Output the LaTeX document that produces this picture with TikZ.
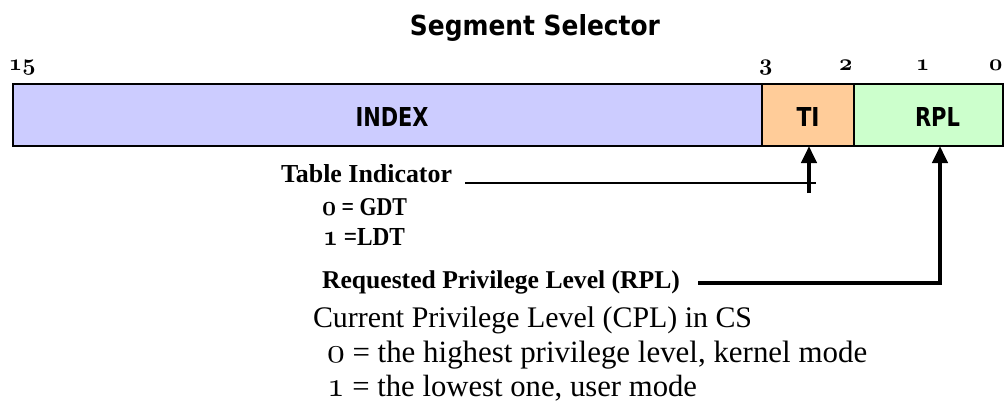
\documentclass[tikz,border=0pt]{standalone}
\usepackage{fontspec}
\usepackage{graphicx}
\usetikzlibrary{arrows.meta}
\setmainfont{Liberation Serif}
\newfontfamily\djv{DejaVu Sans}
\definecolor{idxfill}{HTML}{CCCCFF}
\definecolor{tifill}{HTML}{FFCC99}
\definecolor{rplfill}{HTML}{CCFFCC}
\newcommand\fitw[2]{\resizebox{#1}{!}{#2}}
\newcommand\fitwh[3]{\resizebox{#1}{#2}{#3}}
\newcommand\osfm[1]{\scalebox{1.15}{\usefont{OML}{cmm}{m}{it}#1}}
\newcommand\osfb[1]{\scalebox{1.12}{\usefont{OML}{cmm}{b}{it}#1}}
\begin{document}
\begin{tikzpicture}[x=1pt,y=-1pt,
  every node/.style={inner sep=0pt,outer sep=0pt},
  field/.style={draw=black,line width=1.5pt,minimum height=62pt,anchor=north west},
  boxlbl/.style={anchor=base},
  bitno/.style={anchor=base west,font=\fontsize{20}{20}\selectfont},
  txt/.style={anchor=base west},
  tiptri/.style={-{Triangle[length=17pt,width=15pt]}},
  thinlead/.style={line width=2pt},
  heavylead/.style={line width=4pt},
]
\useasboundingbox (0,0) rectangle (1004,402);
\fill[white] (0,0) rectangle (1004,402);

% title
\node[anchor=base] (title) at (535,35) {\fitwh{250pt}{21pt}{\djv\bfseries Segment Selector}};

% bit numbers
\node[bitno] (b15) at (9,70) {\osfb{15}};
\node[bitno] (b3) at (759,70) {\osfb{3}};
\node[bitno] (b2) at (839,70) {\osfb{2}};
\node[bitno] (b1) at (916,70) {\osfb{1}};
\node[bitno] (b0) at (989,70) {\osfb{0}};

% fields
\node[field,fill=idxfill,minimum width=749pt] (index) at (13,84) {};
\node[field,fill=tifill,minimum width=92pt] (ti) at (762,84) {};
\node[field,fill=rplfill,minimum width=149pt] (rpl) at (854,84) {};
\draw[line width=2.5pt] (index.north west) rectangle (rpl.south east);

\node[boxlbl] (indextxt) at (392,126) {\fitwh{73pt}{19pt}{\djv\bfseries INDEX}};
\node[boxlbl] (titxt) at (808,126) {\fitwh{23pt}{19pt}{\djv\bfseries TI}};
\node[boxlbl] (rpltxt) at (937.5,126) {\fitwh{45pt}{19pt}{\djv\bfseries RPL}};

% table indicator text
\node[txt] (tind) at (281,182) {\fitw{171pt}{\bfseries Table Indicator}};
\node[txt] (gdt) at (322,215) {\fitwh{85pt}{17pt}{\bfseries\osfb{0} = GDT}};
\node[txt] (ldt) at (323,245) {\fitwh{82pt}{17pt}{\bfseries\osfb{1} =LDT}};

% RPL text
\node[txt] (rplname) at (322,288) {\fitw{358pt}{\bfseries Requested Privilege Level (RPL)}};
\node[txt] (cpl) at (313,327) {\fitw{439pt}{Current Privilege Level (CPL) in CS}};
\node[txt] (cpl0) at (327,362) {\fitw{540pt}{\osfm{0} = the highest privilege level, kernel mode}};
\node[txt] (cpl1) at (327,396) {\fitw{370pt}{\osfm{1} = the lowest one, user mode}};

% connectors
\coordinate (tiL) at (465,183);
\coordinate (tiR) at (816,183);
\coordinate (tiTail) at (809,193);
\draw[thinlead] (tiL) -- (tiR);
\draw[heavylead,tiptri] (tiTail) -- (tiTail |- ti.south);

\coordinate (rplTail) at (698,283);
\coordinate (rplHead) at (940,146);
\draw[heavylead,tiptri] (rplTail) -| (rplHead);
\end{tikzpicture}
\end{document}
